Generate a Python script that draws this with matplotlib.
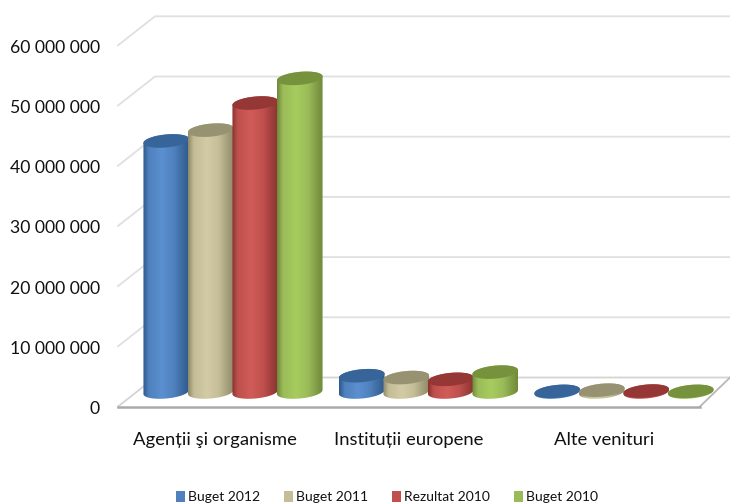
import numpy as np
import matplotlib
matplotlib.use('Agg')
import matplotlib.pyplot as plt
from matplotlib.colors import LinearSegmentedColormap
from matplotlib.patches import Polygon, Patch

plt.rcParams['font.family'] = ['Lato', 'DejaVu Sans']

categories = ['Agenții şi organisme', 'Instituții europene', 'Alte venituri']
series_names = ['Buget 2012', 'Buget 2011', 'Rezultat 2010', 'Buget 2010']
buget_2012 = [41700000, 2700000, 100000]
buget_2011 = [43500000, 2400000, 300000]
rezultat_2010 = [48000000, 2100000, 150000]
buget_2010 = [52100000, 3300000, 100000]
series_values = [buget_2012, buget_2011, rezultat_2010, buget_2010]
yticks = [0, 10000000, 20000000, 30000000, 40000000, 50000000, 60000000]

# light, mid, dark side, top face
colors = [('#5b8fd0', '#4f81bd', '#2f5a8c', '#37659a'),
          ('#d2cba5', '#c4bd97', '#8f8a68', '#979271'),
          ('#d05c58', '#c0504d', '#8a3432', '#953735'),
          ('#a6cc5e', '#9bbb59', '#6f8a3a', '#76923c')]

W, H = 730, 503
px_per_unit = 60.2 / 1e7   # pixels per value unit
y0_px = 392                # pixel row of value 0 at the bars' depth
x0_px = 233                # pixel col of first group centre
group_px = 195.5
bar_px = 44.5
rx_px = 22.8
ry_px = 6.5
tilt_px = 2.0
depth_px = 14.5            # bar plane to wall or front edge

fig = plt.figure(figsize=(W / 100, H / 100), dpi=100)
ax = fig.add_axes([0, 0, 1, 1])
ax.axis('off')

dx = 1 / group_px          # one pixel in x data units
dy = 1 / px_per_unit       # one pixel in y data units
x_left = (118 - x0_px) * dx
x_wall = (155 - x0_px) * dx
x_right = (W - x0_px) * dx
x_front = (700 - x0_px) * dx

# back wall lines and left side lines
for v in yticks[1:]:
    wall = v + depth_px * dy
    front = v - depth_px * dy
    ax.plot([x_left, x_wall, x_right], [front, wall, wall],
            color='#e0e0e0', lw=1.3, solid_joinstyle='miter', zorder=1)

# floor
ax.plot([x_left, x_wall, x_right], [-depth_px * dy, depth_px * dy, depth_px * dy],
        color='#d4d4d4', lw=1.3, zorder=1)
ax.plot([x_front, x_right], [-depth_px * dy, depth_px * dy], color='#b8b8b8', lw=1.3, zorder=1)
ax.plot([x_left, x_front], [-depth_px * dy, -depth_px * dy], color='#aaaaaa', lw=1.8, zorder=1)


def ellipse_pts(cx, cy, n=80, start=0, stop=2 * np.pi):
    t = np.linspace(start, stop, n)
    xs = cx + rx_px * dx * np.cos(t)
    ys = cy + (ry_px * np.sin(t) + tilt_px * np.cos(t)) * dy
    return xs, ys


z = 2
for s, vals in enumerate(series_values):
    light, mid, dark, top = colors[s]
    cmap = LinearSegmentedColormap.from_list('c', [(0, dark), (0.12, mid), (0.42, light), (0.68, mid), (1, dark)])
    for g, v in enumerate(vals):
        cx = g + (s - 1.5) * bar_px * dx
        xb, yb = ellipse_pts(cx, 0, start=np.pi, stop=2 * np.pi)
        xt, yt = ellipse_pts(cx, v, start=0, stop=np.pi)
        body = Polygon(np.column_stack([np.r_[xb, xt], np.r_[yb, yt]]),
                       closed=True, transform=ax.transData, fc='none', ec='none')
        ax.add_patch(body)
        ext_y0 = -(ry_px + tilt_px + 1) * dy
        ext_y1 = v + (ry_px + tilt_px + 1) * dy
        im = ax.imshow(np.linspace(0, 1, 64).reshape(1, -1), cmap=cmap, aspect='auto',
                       extent=[cx - rx_px * dx, cx + rx_px * dx, ext_y0, ext_y1],
                       zorder=z, interpolation='bilinear')
        im.set_clip_path(body)
        xe, ye = ellipse_pts(cx, v)
        ax.fill(xe, ye, color=top, lw=0, zorder=z + 0.5)
    z += 1

# set limits after imshow, which resets them
ax.set_xlim(-x0_px / group_px, (W - x0_px) / group_px)
ax.set_ylim((y0_px - H) / px_per_unit, y0_px / px_per_unit)

# value labels sit on the front edge
for v in yticks:
    label = f'{v:,}'.replace(',', ' ')
    ax.text((100 - x0_px) * dx, v - (depth_px + 2.5) * dy, label, ha='right', va='center',
            fontsize=12.7, color='#111111')

category_px = [215, 409, 604]
for cat_x, name in zip(category_px, categories):
    ax.text((cat_x - x0_px) * dx, (392 - 440) * dy, name,
            ha='center', va='center', fontsize=13.3, color='#111111')

handles = [Patch(fc=c[1], ec='none') for c in colors]
ax.legend(handles, series_names, ncol=4, loc='center', bbox_to_anchor=(387 / W, 1 - 497 / H),
          frameon=False, fontsize=10, handlelength=0.65, handleheight=0.8,
          handletextpad=0.25, columnspacing=1.7, labelcolor='#111111')

fig.savefig('out.png', dpi=100)
